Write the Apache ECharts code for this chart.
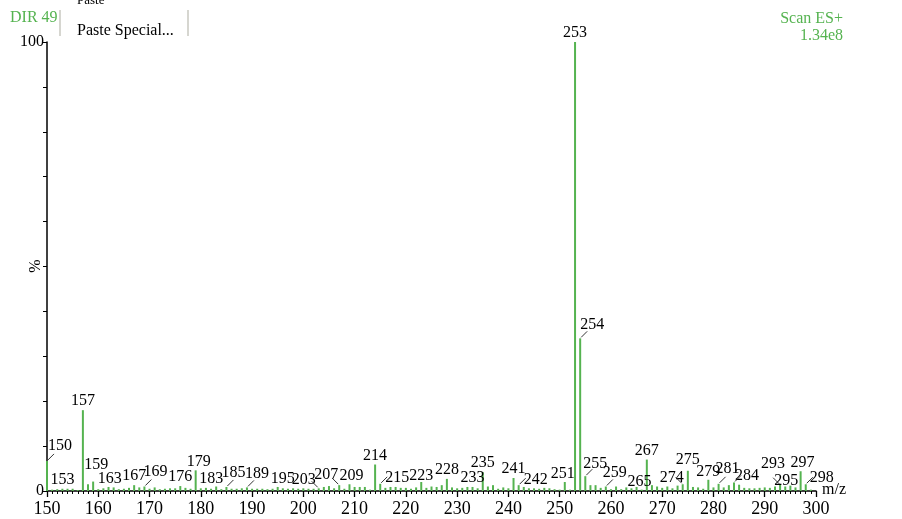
<!DOCTYPE html>
<html>
<head>
<meta charset="utf-8">
<script src="https://cdn.jsdelivr.net/npm/echarts@6/dist/echarts.min.js"></script>
<style>
  html, body { margin: 0; padding: 0; background: #fff; }
  #main { width: 902px; height: 519px; }
</style>
</head>
<body>
<div id="main"></div>
<script>
// m/z 值（150 ~ 299，每个整数一个峰）
var mzValues = [];
for (var m = 150; m <= 299; m++) mzValues.push(m);

// 相对强度 %
var intensity = [
  6.7, 0.3, 0.4, 0.5, 0.5, 0.5, 0.2, 18, 1.5, 2.1,        // 150-159
  0.4, 0.6, 0.9, 0.8, 0.4, 0.5, 0.7, 1.3, 0.8, 1.0,       // 160-169
  0.5, 0.8, 0.4, 0.5, 0.6, 0.6, 1.1, 0.7, 0.5, 4.6,       // 170-179
  0.6, 0.7, 0.5, 1.0, 0.4, 0.9, 0.5, 0.5, 0.6, 0.8,       // 180-189
  0.5, 0.5, 0.5, 0.4, 0.5, 0.9, 0.6, 0.5, 0.6, 0.5,       // 190-199
  0.6, 0.5, 0.5, 0.6, 0.9, 1.1, 0.6, 1.3, 0.5, 1.5,       // 200-209
  0.9, 0.9, 0.9, 0.3, 5.9, 1.6, 0.7, 0.9, 0.9, 0.7,       // 210-219
  0.7, 0.5, 0.8, 2.0, 0.7, 1.0, 0.9, 1.3, 2.7, 0.8,       // 220-229
  0.6, 0.7, 0.9, 0.9, 0.6, 4.2, 1.0, 1.3, 0.5, 0.8,       // 230-239
  0.6, 2.9, 1.3, 0.9, 0.6, 0.6, 0.5, 0.7, 0.6, 0.4,       // 240-249
  0.3, 2.0, 0.3, 100, 34, 3.3, 1.3, 1.3, 0.7, 1.0,        // 250-259
  0.4, 1.0, 0.4, 0.8, 0.6, 0.9, 0.3, 7.0, 1.3, 1.0,       // 260-269
  0.7, 1.0, 0.6, 1.2, 1.5, 4.5, 0.9, 0.8, 0.5, 2.5,       // 270-279
  0.8, 1.6, 0.8, 1.3, 1.9, 1.4, 0.7, 0.6, 0.6, 0.7,       // 280-289
  0.8, 0.7, 1.0, 1.4, 1.0, 1.2, 0.8, 4.4, 1.5, 0.3        // 290-299
];

// 标注了数字的峰
var labeledMz = [150, 153, 157, 159, 163, 167, 169, 176, 179, 183, 185, 189, 195, 203, 207, 209,
  214, 215, 223, 228, 233, 235, 241, 242, 251, 253, 254, 255, 259, 265, 267, 274, 275, 279,
  281, 284, 293, 295, 297, 298];

// x 轴刻度标签
var xTicks = [150, 160, 170, 180, 190, 200, 210, 220, 230, 240, 250, 260, 270, 280, 290, 300];

// 标签位置微调 [dx, dy, 是否画引线]（相对柱顶，像素）
var labelNudge = {
  150: [13, -15, 1], 159: [3, -17, 0], 163: [-4, -9, 0], 169: [11, -15, 1], 179: [3, -9, 0],
  183: [-5, -8, 0], 185: [7, -14, 1], 189: [10, -14, 1], 195: [5, -8, 0], 203: [-15, -9, 1],
  207: [-13, -10, 1], 209: [2, -8, 0], 215: [17, -6, 1], 223: [0, -6, 0], 242: [17, -5, 1],
  251: [-2, -8, 0], 254: [12, -14, 1], 255: [10, -12, 1], 259: [9, -14, 1], 265: [3, -5, 0],
  274: [-11, -6, 1], 275: [0, -11, 0], 279: [0, -8, 0], 281: [9, -15, 1], 284: [13, -7, 1],
  293: [-7, -21, 1], 295: [-4, -5, 0], 297: [2, -8, 0], 298: [16, -6, 1]
};

var GREEN = '#55b350';
var SERIF = '"Liberation Serif", "Times New Roman", serif';

var barData = [];
for (var i = 0; i < mzValues.length; i++) {
  barData.push([mzValues[i], intensity[i]]);
}
var labelData = labeledMz.map(function (mz) {
  return [mz, intensity[mz - 150]];
});

var chart = echarts.init(document.getElementById('main'));
var option = {
  animation: false,
  backgroundColor: '#fff',
  grid: { left: 47, right: 86, top: 42, bottom: 28, containLabel: false, outerBoundsMode: 'none' },
  xAxis: {
    type: 'value',
    min: 150,
    max: 300,
    interval: 10,
    axisLine: { show: true, lineStyle: { color: '#000', width: 1.5 } },
    axisTick: { show: true, length: 6, lineStyle: { color: '#000', width: 1.3 } },
    minorTick: { show: true, splitNumber: 10, length: 3, lineStyle: { color: '#000' } },
    splitLine: { show: false },
    axisLabel: {
      color: '#000', fontFamily: SERIF, fontSize: 18, margin: 9,
      formatter: function (v) { return xTicks.indexOf(v) >= 0 ? v : ''; }
    }
  },
  yAxis: {
    type: 'value',
    min: 0,
    max: 100,
    interval: 10,
    axisLine: { show: true, lineStyle: { color: '#000', width: 1.5 } },
    axisTick: { show: true, length: 4, lineStyle: { color: '#000' } },
    splitLine: { show: false },
    axisLabel: {
      color: '#000', fontFamily: SERIF, fontSize: 16, margin: 3,
      formatter: function (v) { return (v === 0 || v === 100) ? v : ''; }
    }
  },
  series: [
    {
      type: 'bar',
      data: barData,
      barWidth: 2,
      itemStyle: { color: GREEN },
      z: 2
    },
    {
      // 峰标签 + 引线
      type: 'custom',
      data: labelData,
      z: 3,
      renderItem: function (params, api) {
        var mz = api.value(0);
        var p = api.coord([mz, api.value(1)]);
        var n = labelNudge[mz] || [0, -9, 0];
        var children = [{
          type: 'text',
          style: {
            text: String(mz),
            x: p[0] + n[0],
            y: p[1] + n[1],
            align: 'center',
            verticalAlign: 'middle',
            fill: '#000',
            font: '16px ' + SERIF
          }
        }];
        if (n[2]) {
          var sx = n[0] > 0 ? 1 : -1;
          children.push({
            type: 'line',
            shape: { x1: p[0] + sx, y1: p[1] - 1, x2: p[0] + sx * 7, y2: p[1] - 7 },
            style: { stroke: '#333', lineWidth: 1 }
          });
        }
        return { type: 'group', children: children };
      }
    }
  ],
  graphic: [
    { type: 'text', left: 10, top: 10, style: { text: 'DIR 49', fill: GREEN, font: '16px ' + SERIF } },
    { type: 'line', shape: { x1: 60, y1: 10, x2: 60, y2: 36 }, style: { stroke: '#c8c8c0', lineWidth: 1.5 } },
    { type: 'line', shape: { x1: 188, y1: 10, x2: 188, y2: 36 }, style: { stroke: '#c8c8c0', lineWidth: 1.5 } },
    { type: 'text', left: 77, top: -6, style: { text: 'Paste', fill: '#000', font: '13px ' + SERIF } },
    { type: 'text', left: 77, top: 23, style: { text: 'Paste Special...', fill: '#000', font: '16px ' + SERIF } },
    { type: 'text', right: 59, top: 11, style: { text: 'Scan ES+', fill: GREEN, font: '16px ' + SERIF, align: 'right' } },
    { type: 'text', right: 59, top: 28, style: { text: '1.34e8', fill: GREEN, font: '16px ' + SERIF, align: 'right' } },
    { type: 'text', left: 822, top: 482, style: { text: 'm/z', fill: '#000', font: '16px ' + SERIF } },
    {
      type: 'text', x: 36, y: 266, rotation: Math.PI / 2,
      style: { text: '%', fill: '#000', font: '16px ' + SERIF, align: 'center', verticalAlign: 'middle' }
    }
  ]
};
chart.setOption(option);
</script>
</body>
</html>
